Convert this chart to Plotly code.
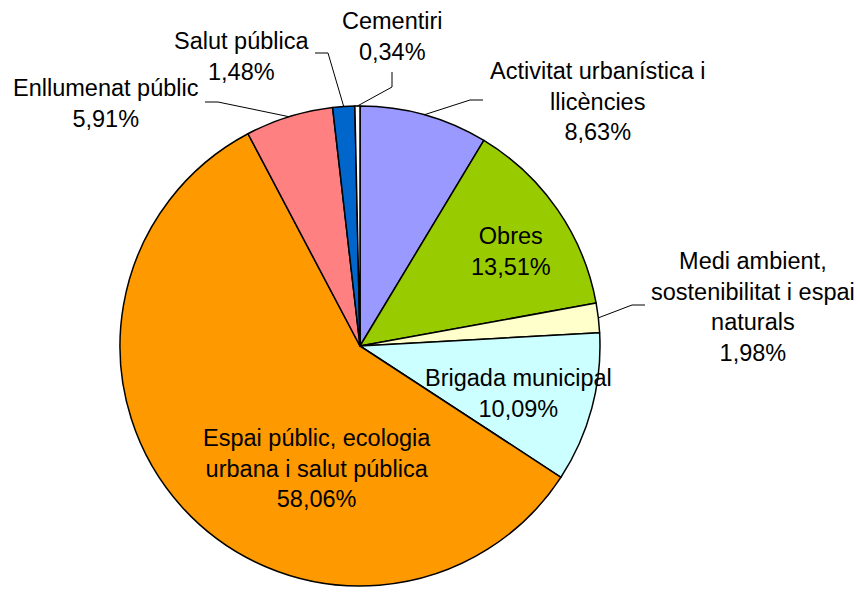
import math
import plotly.graph_objects as go

# Budget shares by area (percent), clockwise from 12 o'clock
categories = [
    "Activitat urbanística i llicències",
    "Obres",
    "Medi ambient, sostenibilitat i espai naturals",
    "Brigada municipal",
    "Espai públic, ecologia urbana i salut pública",
    "Enllumenat públic",
    "Salut pública",
    "Cementiri",
]
shares = [8.63, 13.51, 1.98, 10.09, 58.06, 5.91, 1.48, 0.34]
label_lines = [
    ["Activitat urbanística i", "llicències"],
    ["Obres"],
    ["Medi ambient,", "sostenibilitat i espai", "naturals"],
    ["Brigada municipal"],
    ["Espai públic, ecologia", "urbana i salut pública"],
    ["Enllumenat públic"],
    ["Salut pública"],
    ["Cementiri"],
]
colors = ["#9999FF", "#99CC00", "#FFFFCC", "#CCFFFF",
          "#FF9900", "#FF8080", "#0066CC", "#FFFFFF"]

W, H = 860, 592
CX, CY, R = 360, 346, 240  # pie centre and radius in pixels

# label placement: (centre x, centre y, elbow, end) in pixels
placement = {
    "Activitat urbanística i llicències": (598, 101, (470, 100), (483, 100)),
    "Obres": (511, 251, None, None),
    "Medi ambient, sostenibilitat i espai naturals": (753, 307, (632, 305), (645, 305)),
    "Brigada municipal": (518, 393, None, None),
    "Espai públic, ecologia urbana i salut pública": (317, 468, None, None),
    "Enllumenat públic": (106, 104, (218, 102), (205, 102)),
    "Salut pública": (241, 56, (328, 53), (315, 53)),
    "Cementiri": (392, 36, (392, 87), (392, 72)),
}


def px(x):
    return x / W


def py(y):
    return 1 - y / H


fig = go.Figure(go.Pie(
    labels=categories,
    values=shares,
    sort=False,
    direction="clockwise",
    rotation=0,
    textinfo="none",
    hoverinfo="label+percent",
    marker=dict(colors=colors, line=dict(color="black", width=1.5)),
    domain=dict(x=[px(CX - R), px(CX + R)], y=[py(CY + R), py(CY - R)]),
    showlegend=False,
))

total = sum(shares)
cum = 0.0
shapes = []
annotations = []
for name, val, lines in zip(categories, shares, label_lines):
    mid = (cum + val / 2) / total * 2 * math.pi
    cum += val
    lx, ly, elbow, end = placement[name]
    pct = f"{val:.2f}".replace(".", ",") + "%"
    annotations.append(dict(
        x=px(lx), y=py(ly), xref="paper", yref="paper",
        text="<br>".join(lines + [pct]), showarrow=False,
        align="center", xanchor="center", yanchor="middle",
        font=dict(family="Liberation Sans, Arial, sans-serif", size=23.5, color="black"),
    ))
    if elbow is not None:
        sx = CX + R * math.sin(mid)
        sy = CY - R * math.cos(mid)
        path = (f"M {px(sx)} {py(sy)} L {px(elbow[0])} {py(elbow[1])} "
                f"L {px(end[0])} {py(end[1])}")
        shapes.append(dict(type="path", path=path, xref="paper", yref="paper",
                           line=dict(color="black", width=1)))

fig.update_layout(
    width=W, height=H,
    margin=dict(l=0, r=0, t=0, b=0),
    paper_bgcolor="white", plot_bgcolor="white",
    shapes=shapes, annotations=annotations,
)

fig.write_html("out.html")
